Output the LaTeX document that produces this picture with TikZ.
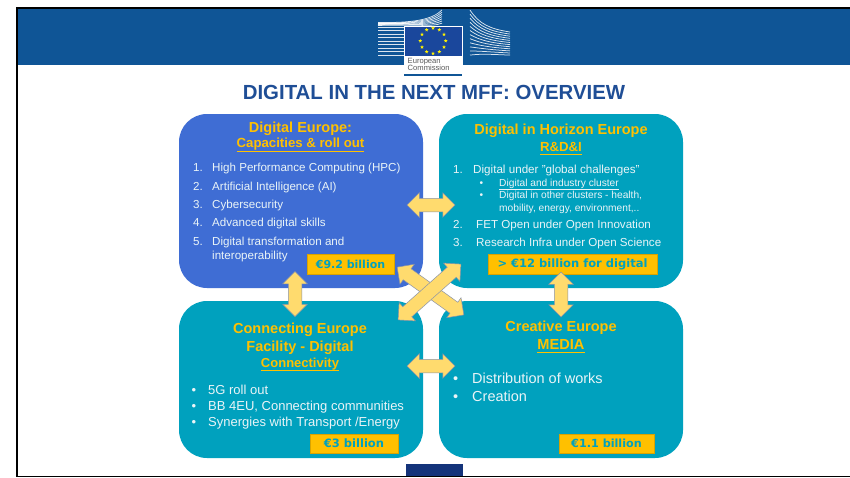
\documentclass[tikz,border=0pt]{standalone}
\usepackage{fontspec}
\setmainfont{Liberation Sans}
\newfontfamily\verd{DejaVu Sans}
\usetikzlibrary{shapes.arrows,shapes.geometric}
\newcommand\myul[2][1.6pt]{\sbox0{#2}\rlap{\rule[-#1]{\wd0}{.7pt}}\box0}
\definecolor{hdr}{HTML}{0F5596}
\definecolor{flagblue}{HTML}{1A479C}
\definecolor{titleblue}{HTML}{1F4E96}
\definecolor{boxblue}{HTML}{3F6DD4}
\definecolor{boxteal}{HTML}{00A1BE}
\definecolor{gold}{HTML}{FFC000}
\definecolor{arrowfill}{HTML}{FFDB6E}
\definecolor{arrowedge}{HTML}{8A93A8}
\definecolor{navy}{HTML}{14337A}
\definecolor{txt}{HTML}{EAF4F7}
\tikzset{
  panel/.style={rounded corners=28pt,draw=none},
  head/.style={text=gold,font=\fontsize{#1}{#1}\selectfont\bfseries,anchor=center,inner sep=0pt,yshift=-1.5pt},
  head/.default=14.5,
  item/.style={text=txt,font=\fontsize{#1}{#1}\selectfont,anchor=base west,inner sep=0pt,yshift=-4.4pt},
  item/.default=11,
  money/.style={fill=gold,draw=gold!85!black,line width=.3pt,text=boxteal,font=\verd\fontsize{#1}{#1}\selectfont\bfseries,inner sep=0pt,anchor=center},
  money/.default=11,
  dbl/.style={double arrow,fill=arrowfill,draw=arrowedge,line width=.5pt,inner xsep=0pt,inner ysep=6.5pt,
     double arrow head extend=5.5pt,double arrow tip angle=90,anchor=center},
  stripe/.style={white,line width=.75pt,opacity=.85},
}
\begin{document}
\begin{tikzpicture}[x=1pt,y=-1pt]
\useasboundingbox (0,0) rectangle (850,477);
\fill[white] (0,0) rectangle (850,477);
% header band and frame
\fill[hdr] (17,9) rectangle (850,65);
\fill[black] (15.5,6.5) rectangle (850,9);
\fill[black] (15.5,6.5) rectangle (17.5,477);
\fill[black] (15.5,475.5) rectangle (850,477);
\fill[navy] (406,464) rectangle (463,476);
% logo buildings
\foreach \i in {0,...,9}{
  \draw[stripe] (378,{23.5+\i*3.5}) -- (404,{23.5+\i*3.5});
}
\foreach \i in {0,...,11}{
  \draw[stripe] (470,{10+\i*4.1}) .. controls ({479+\i*.2},{24+\i*2.7}) and (490,{29+\i*2.3}) .. (510,{32+\i*2.1});
}
\foreach \i in {0,...,6}{
  \draw[stripe] (378,{22.5+\i*.5}) .. controls (412,{23+\i*.2}) and (432,{20+\i*1.2}) .. (442,{10+\i*2.2});
}
\fill[white] (404,26) rectangle (463,73);
\fill[flagblue] (405,27) rectangle (462,55.5);
\fill[hdr] (404,74) rectangle (462,75.5);
\foreach \a in {0,30,...,330}{
  \node[star,star points=5,star point ratio=2.4,fill=yellow,minimum size=4pt,inner sep=0pt] at ({433+12.7*cos(\a)},{40.8+12.7*sin(\a)}) {};
}
\node[text=black!65,font=\fontsize{7.6}{7.8}\selectfont,align=left,anchor=west,inner sep=0pt] (ec) at (407.5,64.5) {European\\Commission};
% title
\node[text=titleblue,font=\fontsize{20.4}{20.4}\selectfont\bfseries,inner sep=0pt] (title) at (434,92) {DIGITAL IN THE NEXT MFF: OVERVIEW};
% panels
\fill[panel,fill=boxblue] (179,114) rectangle (423,288);
\fill[panel,fill=boxteal] (439,114) rectangle (683,288);
\fill[panel,fill=boxteal] (179,301) rectangle (423,458);
\fill[panel,fill=boxteal] (439,301) rectangle (683,458);
% top left
\node[head] (tl1) at (300.5,127) {Digital Europe:};
\node[head=13.2] (tl2) at (300.5,143.5) {\myul[3.6pt]{Capacities \& roll out}};
\foreach \y/\n/\t in {167.5/1/High Performance Computing (HPC),186/2/Artificial Intelligence (AI),204/3/Cybersecurity,222.5/4/Advanced digital skills,241/5/Digital transformation and}{
  \node[item=11.6] (tln\n) at (193,\y) {\n.};
  \node[item=11.6] (tlt\n) at (212,\y) {\t};
}
\node[item=11.6] (tlt6) at (212,255) {interoperability};
\node[money,minimum width=87pt,minimum height=20pt] (m1) at (350.5,264) {€9.2 billion};
% top right
\node[head] (tr1) at (561,129) {Digital in Horizon Europe};
\node[head=13.2] (tr2) at (561,147) {\myul[3.2pt]{R\&D\&I}};
\node[item=11.65] (trn1) at (453,169) {1.};
\node[item=11.65] (trt1) at (473,169) {Digital under "global challenges"};
\node[item=10.2] (trb1) at (479.5,182) {•};
\node[item=10.2] (trs1) at (499,182) {\myul[3pt]{Digital and industry cluster}};
\node[item=10.2] (trb2) at (479.5,194.5) {•};
\node[item=10.2] (trs2) at (499,194.5) {Digital in other clusters - health,};
\node[item=10.2] (trs3) at (499,207) {mobility, energy, environment,..};
\node[item=11.6] (trn2) at (453,224) {2.};
\node[item=11.6] (trt2) at (476,224) {FET Open under Open Innovation};
\node[item=11.6] (trn3) at (453,242) {3.};
\node[item=11.6] (trt3) at (476,242) {Research Infra under Open Science};
\node[money=11.5,minimum width=169pt,minimum height=20pt] (m2) at (572.5,264) {> €12 billion for digital};
% bottom left
\node[head] (bl1) at (300,328) {Connecting Europe};
\node[head] (bl2) at (300,346) {Facility - Digital};
\node[head=13] (bl3) at (300,363) {\myul[3.6pt]{Connectivity}};
\node[item=13] (blb1) at (191.5,390) {•};
\node[item=13] (blt1) at (208,390) {5G roll out};
\node[item=13] (blb2) at (191.5,406.5) {•};
\node[item=13] (blt2) at (208,406.5) {BB 4EU, Connecting communities};
\node[item=13] (blb3) at (191.5,422) {•};
\node[item=13] (blt3) at (208,422) {Synergies with Transport /Energy};
\node[money=11.5,minimum width=88pt,minimum height=19pt] (m3) at (354,443.5) {€3 billion};
% bottom right
\node[head] (br1) at (561,326.5) {Creative Europe};
\node[head=14.6] (br2) at (561,344.5) {\myul[2.4pt]{MEDIA}};
\node[item=14.5] (brb1) at (453,379) {•};
\node[item=14.5] (brt1) at (472,379) {Distribution of works};
\node[item=14.5] (brb2) at (453,397) {•};
\node[item=14.5] (brt2) at (472,397) {Creation};
\node[money=11.2,minimum width=95pt,minimum height=19pt] (m4) at (606.5,443.5) {€1.1 billion};
% block arrows
\node[dbl,minimum height=48pt] (a1) at (431,205) {};
\node[dbl,minimum height=48pt] (a2) at (431,366) {};
\node[dbl,minimum height=45pt,rotate=90] (a3) at (295,294) {};
\node[dbl,minimum height=45pt,rotate=90] (a4) at (561,294.5) {};
\node[dbl,minimum height=82pt,rotate=-35.6] (a6) at (430.5,291) {};
\node[dbl,minimum height=84pt,rotate=41.6] (a5) at (429.5,292) {};
\end{tikzpicture}
\end{document}
